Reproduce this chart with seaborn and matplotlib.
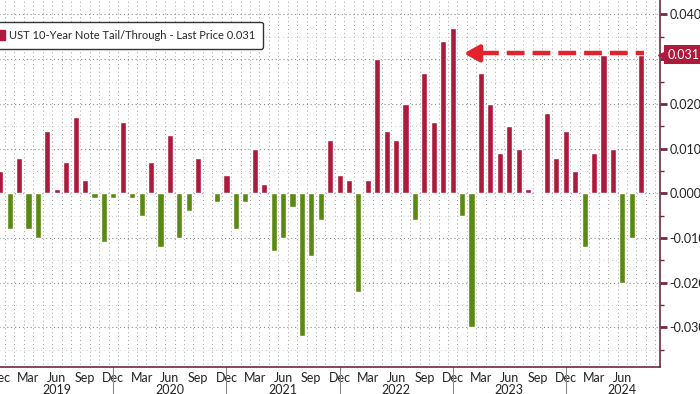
import numpy as np
import pandas as pd
import matplotlib
matplotlib.use("Agg")
import matplotlib.pyplot as plt
import matplotlib.transforms as mtransforms
from matplotlib.patches import Patch
import seaborn as sns

# monthly 10y auction tail (+) / stop-through (-), Dec 2018 .. Aug 2024
months = pd.date_range("2018-12-01", "2024-08-01", freq="MS")
tail = [
    0.005,
    -0.008, 0.008, -0.008, -0.010, 0.014, 0.001, 0.007, 0.017, 0.003, -0.001, -0.011, -0.001,
    0.016, -0.001, -0.005, 0.007, -0.012, 0.013, -0.010, -0.004, 0.008, 0.000, -0.002, 0.004,
    -0.008, -0.002, 0.010, 0.002, -0.013, -0.010, -0.003, -0.032, -0.014, -0.006, 0.012, 0.004,
    0.003, -0.022, 0.003, 0.030, 0.014, 0.012, 0.020, -0.006, 0.027, 0.016, 0.034, 0.037,
    -0.005, -0.030, 0.027, 0.020, 0.009, 0.015, 0.010, 0.001, 0.000, 0.018, 0.008, 0.014,
    0.005, -0.012, 0.009, 0.031, 0.010, -0.020, -0.010, 0.031,
]
last_price = 0.031
legend_label = "UST 10-Year Note Tail/Through - Last Price 0.031"
y_ticks = [-0.03, -0.02, -0.01, 0.0, 0.01, 0.02, 0.03, 0.04]

RED = "#ae1a3b"
GREEN = "#5b8a12"
ARROW = "#e3222d"
AXIS = "#6e2a40"

df = pd.DataFrame({"month": months.strftime("%Y-%m"), "tail": tail})
df["sign"] = np.where(df["tail"] >= 0, "tail", "through")

sns.set_style("white")
plt.rcParams["font.family"] = ["Liberation Sans Narrow", "Lato", "DejaVu Sans"]

fig = plt.figure(figsize=(7, 3.94), dpi=100)
ax = fig.add_axes([0, 27 / 394, 660 / 700, 367 / 394])

sns.barplot(data=df, x="month", y="tail", hue="sign",
            palette={"tail": RED, "through": GREEN}, dodge=False,
            width=0.65, saturation=1, legend=False, ax=ax, zorder=3)

n = len(df)
ax.set_xlim(-0.03, 70.0)
ax.set_ylim(-0.03886, 0.04324)
ax.set_xlabel("")
ax.set_ylabel("")

# grid: dotted month boundaries + dotted horizontals
ax.vlines(np.arange(-1, n + 1) + 0.5, -1, 1, colors="#a0a0a0",
          linestyles=(0, (1, 3)), lw=0.7, zorder=0)
ax.hlines(y_ticks, -1, 71, colors="#8a8a8a", linestyles=(0, (1, 2.5)),
          lw=0.8, zorder=0)
ax.hlines(np.arange(-0.035, 0.045, 0.01), -1, 71, colors="#c0c0c0",
          linestyles=(0, (1, 4)), lw=0.6, zorder=0)

# right-hand y axis
ax.yaxis.tick_right()
ax.set_yticks(y_ticks, labels=[f"{v:.3f}" for v in y_ticks])
ax.set_yticks(np.arange(-0.035, 0.045, 0.01), minor=True)
ax.tick_params(axis="y", which="major", direction="out", length=5, width=2,
               color=AXIS, labelsize=9, labelcolor="#222222", pad=2)
ax.tick_params(axis="y", which="minor", direction="out", length=3, width=1, color=AXIS)

# bottom month axis
q_idx = [i for i, m in enumerate(months) if m.month in (3, 6, 9, 12)]
ax.set_xticks(q_idx, labels=[months[i].strftime("%b") for i in q_idx])
ax.set_xticks(range(n), minor=True)
ax.tick_params(axis="x", which="both", direction="out", length=3, width=0.8,
               color=AXIS, labelsize=9, labelcolor="#222222", pad=0.5)

for side in ["top", "left"]:
    ax.spines[side].set_visible(False)
for side in ["right", "bottom"]:
    ax.spines[side].set_color(AXIS)
    ax.spines[side].set_linewidth(1.2)

# year labels and separators
trans = mtransforms.blended_transform_factory(ax.transData, ax.transAxes)
for i, m in enumerate(months):
    if m.month == 6:
        ax.text(i, -0.062, str(m.year), transform=trans, ha="center",
                va="center", fontsize=9, color="#222222", clip_on=False)
    if m.month == 12 and i > 0:
        ax.plot([i, i], [0, -0.08], transform=trans, color="#8a8a8a",
                lw=0.8, clip_on=False)

# dashed arrow from the last bar back to the prior peak
ax.plot([51.0, 68.3], [last_price + 0.0003] * 2, color=ARROW, lw=3.2,
        dashes=(4, 1.8), zorder=5, solid_capstyle="butt")
ax.annotate("", xy=(48.9, last_price + 0.0003), xytext=(51.2, last_price + 0.0003),
            arrowprops=dict(arrowstyle="-|>,head_length=0.9,head_width=0.5",
                            color=ARROW, lw=3.2), zorder=6)

# last price tag on the axis
ytrans = mtransforms.blended_transform_factory(ax.transAxes, ax.transData)
ax.plot([1.006], [last_price], marker="<", ms=9, color=RED, transform=ytrans,
        clip_on=False, zorder=10)
ax.text(1.012, last_price, f"{last_price:.3f}", transform=ytrans, color="white",
        fontsize=9, ha="left", va="center", clip_on=False, zorder=11,
        bbox=dict(boxstyle="square,pad=0.3", fc=RED, ec="none"))

ax.legend(handles=[Patch(facecolor=RED, edgecolor=RED)], labels=[legend_label],
          loc="upper left", bbox_to_anchor=(-0.028, 0.955), fontsize=8,
          handlelength=0.9, handleheight=1.0, handletextpad=0.4,
          borderpad=0.7, frameon=True, fancybox=True, edgecolor="#333333",
          framealpha=1)

fig.savefig("out.png", dpi=100)
